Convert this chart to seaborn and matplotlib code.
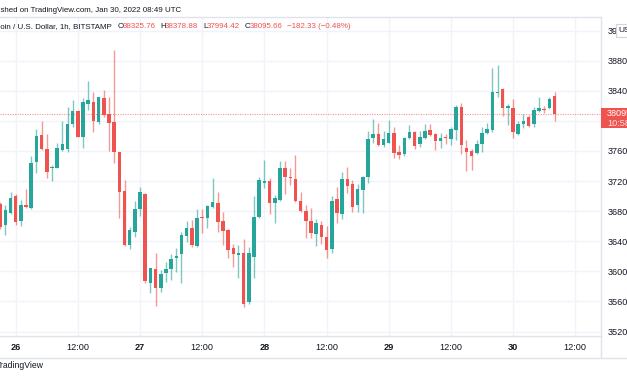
import numpy as np
import matplotlib
matplotlib.use("Agg")
import matplotlib.pyplot as plt
import seaborn as sns
import pandas as pd
from matplotlib.patches import Rectangle
from matplotlib.lines import Line2D

# BTC/USD 1h candles, x = hours after 26 Jan 2022 00:00 UTC
hours = list(range(-3, 105))

opens = [
    36891, 36616, 36771, 37006, 36669, 36882, 36838, 37458, 37812, 37622, 37369, 37378,
    37613, 37626, 37958, 38131, 37790, 38220, 38246, 37989, 38308, 38087, 37989, 37582,
    37068, 36350, 36527, 36829, 37032, 35850, 36031, 35783, 35982, 36031, 36182, 36226,
    36474, 36572, 36337, 36727, 36713, 36851, 36904, 36669, 36549, 36306, 36217, 36239,
    35588, 36191, 36718, 37179, 37201, 36904, 36948, 37378, 37245, 37223, 36935, 36807,
    36674, 36501, 36616, 36461, 36297, 36957, 36762, 37223, 37156, 36882, 37081, 37258,
    37777, 37825, 37679, 37710, 37834, 37582, 37555, 37768, 37856, 37688, 37768, 37874,
    37821, 37732, 37786, 37759, 37874, 38189, 37635, 37599, 37568, 37688, 37834, 37878,
    38375, 38419, 38166, 38175, 37821, 37954, 38056, 37958, 38131, 38158, 38166, 38325.76,
]
highs = [
    36926, 36882, 37059, 37024, 36948, 37090, 37533, 37887, 37998, 37821, 37413, 37701,
    37998, 38189, 38277, 38140, 38299, 38534, 38388, 38322, 38410, 38313, 38942, 37582,
    37214, 36594, 36935, 37117, 37041, 36049, 36248, 36018, 36129, 36226, 36315, 36527,
    36669, 36682, 36824, 36829, 36882, 37236, 37059, 36784, 36563, 36363, 36350, 36430,
    36328, 37001, 37258, 37480, 37236, 37015, 37467, 37467, 37369, 37546, 37059, 36882,
    36846, 36696, 36669, 36603, 37006, 37125, 37325, 37391, 37214, 37156, 37272, 37870,
    38025, 37976, 37870, 38011, 37914, 37679, 37781, 37945, 37865, 37870, 37958, 37958,
    37834, 37839, 37821, 37923, 38211, 38233, 37746, 37622, 37746, 37923, 37976, 38707,
    38742, 38441, 38220, 38290, 37998, 38087, 38078, 38189, 38322, 38197, 38313, 38378.88,
]
lows = [
    36563, 36483, 36758, 36616, 36603, 36838, 36829, 37302, 37613, 37245, 37201, 37369,
    37599, 37591, 37923, 37781, 37644, 38144, 37847, 37958, 38056, 37599, 37435, 36713,
    36341, 36293, 36461, 36740, 35841, 35708, 35544, 35730, 35863, 35885, 35996, 35850,
    36395, 36328, 36328, 36514, 36581, 36838, 36527, 36350, 36173, 36062, 35907, 35531,
    35562, 35916, 36709, 37112, 36762, 36647, 36935, 37024, 37148, 36926, 36793, 36448,
    36448, 36341, 36359, 36182, 36248, 36638, 36691, 37037, 36784, 36793, 36771, 37170,
    37701, 37666, 37657, 37701, 37511, 37489, 37537, 37754, 37626, 37648, 37759, 37803,
    37613, 37644, 37697, 37679, 37746, 37555, 37334, 37347, 37555, 37582, 37821, 37856,
    38322, 38065, 37945, 37777, 37812, 37910, 37923, 37923, 38122, 38100, 38153, 37994.42,
]
closes = [
    36594, 36815, 36979, 36660, 36882, 36851, 37435, 37799, 37626, 37325, 37387, 37635,
    37688, 37958, 38131, 37790, 38255, 38273, 37998, 38313, 38078, 37976, 37591, 37050,
    36350, 36549, 36829, 37059, 35872, 36040, 35774, 35960, 36027, 36160, 36208, 36483,
    36572, 36350, 36713, 36709, 36868, 36926, 36660, 36536, 36284, 36226, 36248, 35566,
    36239, 36718, 37214, 37201, 36904, 36975, 37378, 37258, 37236, 36935, 36802, 36674,
    36505, 36638, 36461, 36284, 36939, 36771, 37223, 37134, 36851, 37094, 37258, 37754,
    37825, 37679, 37754, 37834, 37577, 37546, 37768, 37847, 37670, 37786, 37865, 37812,
    37732, 37768, 37768, 37892, 38189, 37679, 37591, 37533, 37688, 37834, 37887, 38379,
    38388, 38166, 38197, 37856, 37958, 37998, 37936, 38144, 38175, 38140, 38286, 38095.66,
]

x_ticks = [0, 12, 24, 36, 48, 60, 72, 84, 96, 108]
x_labels = ["26", "12:00", "27", "12:00", "28", "12:00", "29", "12:00", "30", "12:00"]
y_ticks = [35200, 35600, 36000, 36400, 36800, 37200, 37600, 38000, 38400, 38800, 39200]
last_price = 38095.66

UP = "#26a69a"
DOWN = "#ef5350"
GRID = "#f0f3fa"
LINE = "#e0e3eb"
TEXT = "#131722"

df = pd.DataFrame({"hour": hours, "open": opens, "high": highs,
                   "low": lows, "close": closes})
df["color"] = np.where(df["close"] >= df["open"], UP, DOWN)
df["body"] = np.maximum((df["close"] - df["open"]).abs(), 12)
df["bottom"] = df[["open", "close"]].min(axis=1)

sns.set_style("white")
plt.rcParams["font.family"] = ["Liberation Sans", "DejaVu Sans"]

W, H = 627, 376
fig = plt.figure(figsize=(W / 100, H / 100), dpi=100)
ax = fig.add_axes([0, 1 - 336 / H, 601 / W, (336 - 17) / H])


def px(x, y):
    return x / W, 1 - y / H


# wicks + bodies
ax.vlines(df["hour"], df["low"], df["high"], colors=df["color"], linewidth=1, alpha=0.6)
ax.bar(df["hour"], df["body"], bottom=df["bottom"], width=0.68,
       color=df["color"], linewidth=0)

ax.axhline(last_price, color=DOWN, lw=0.8, ls=(0, (1, 1.2)), alpha=0.6)

ax.set_xlim(-3.03, 112.97)
ax.set_ylim(35141, 39381)
ax.set_xticks(x_ticks, x_labels)
# the 38000 label sits under the last-price tag, so it is left blank
ax.set_yticks(y_ticks, ["" if v == 38000 else str(v) for v in y_ticks])
ax.yaxis.tick_right()
ax.grid(True, color=GRID, lw=1)
ax.set_axisbelow(True)
ax.tick_params(axis="y", length=0, pad=4.5, labelsize=6.6, labelcolor=TEXT)
ax.tick_params(axis="x", length=0, pad=5, labelsize=6.6, labelcolor=TEXT)
for lab in ax.get_xticklabels():
    if ":" not in lab.get_text():
        lab.set_fontweight("bold")
ax.spines["left"].set_visible(False)
for side in ["right", "bottom", "top"]:
    ax.spines[side].set_color(LINE)
    ax.spines[side].set_linewidth(1)

# frame lines under the time axis
fig.add_artist(Line2D([0, 1], [1 - 358 / H] * 2, color=LINE, lw=1))
fig.add_artist(Line2D([601 / W] * 2, [1 - 358 / H, 1 - 336 / H], color=LINE, lw=1))

# last price label on the price scale
fig.add_artist(Rectangle(px(601, 128), 30 / W, 20 / H, color=DOWN, lw=0))
fig.text(*px(607, 113.5), "38095.66", color="white", fontsize=6.6, va="center")
fig.text(*px(607, 123), "10:58", color="#fde0e0", fontsize=6.6, va="center")

# currency box at top of the price scale
fig.add_artist(Rectangle(px(616, 37), 16 / W, 13 / H, facecolor="white",
                         edgecolor="#d1d4dc", lw=0.8))
fig.text(*px(618, 30.5), "USD", color=TEXT, fontsize=6, va="center")

# header
fig.text(*px(181, 10), "Published on TradingView.com, Jan 30, 2022 08:49 UTC",
         ha="right", va="center", color=TEXT, fontsize=5.7)
fig.text(*px(112, 27), "Bitcoin / U.S. Dollar, 1h, BITSTAMP",
         ha="right", va="center", color=TEXT, fontsize=5.7)
legend = [(118, "O", TEXT), (123, "38325.76", DOWN), (160, "H", TEXT),
          (165, "38378.88", DOWN), (203, "L", TEXT), (207, "37994.42", DOWN),
          (245, "C", TEXT), (250, "38095.66", DOWN), (287, "\u2212182.33 (\u22120.48%)", DOWN)]
for x, s, c in legend:
    fig.text(*px(x, 27), s, ha="left", va="center", color=c, fontsize=5.7)

fig.text(*px(44, 366), "TradingView", ha="right", va="center", color=TEXT, fontsize=6.2)

fig.savefig("out.png", dpi=100)
